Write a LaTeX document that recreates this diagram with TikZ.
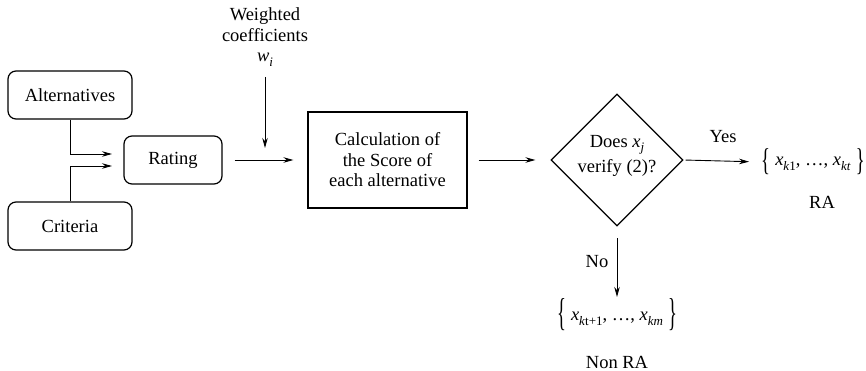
\documentclass[tikz,border=0pt]{standalone}
\usepackage{fontspec}
\usepackage{graphicx}
\setmainfont{Liberation Serif}
\usetikzlibrary{arrows.meta,shapes.geometric}
\newcommand{\sbs}[1]{\raisebox{-4.5pt}[0pt][0pt]{\fontsize{13}{13}\selectfont #1}}
\newcommand{\vx}[1]{\textit{x}\sbs{#1}}
\newcommand{\lbr}[1]{\raisebox{-0.28em}{\scalebox{1}[#1]{\{}}}
\newcommand{\rbr}[1]{\raisebox{-0.28em}{\scalebox{1}[#1]{\}}}}
\begin{document}
\begin{tikzpicture}[x=1pt,y=-1pt,
  every node/.style={font=\fontsize{18.5}{20.5}\selectfont},
  rbox/.style={draw,line width=1.2pt,rounded corners=8pt,inner sep=0pt},
  sbox/.style={draw,line width=1.2pt,inner sep=0pt,align=center},
  arr/.style={line width=0.9pt,-{Stealth[length=10pt,width=5.5pt]}}]
\useasboundingbox (0,0) rectangle (866,371);
\node[rbox,minimum width=124pt,minimum height=48pt] (alt) at (70,95) {Alternatives};
\node[rbox,minimum width=124pt,minimum height=48pt] (crit) at (70,226) {Criteria};
\node[rbox,minimum width=98pt,minimum height=48pt] (rate) at (173,160) {Rating};
\node[sbox,minimum width=159pt,minimum height=96pt] (calc) at (387.5,160) {Calculation of\\the Score of\\each alternative};
\node[draw,line width=1.2pt,diamond,aspect=1,minimum width=132pt,minimum height=132pt,inner sep=0pt] (dec) at (617,160) {};
\node[align=center,inner sep=0pt] (dect) at (617,156) {Does \vx{\textit{j}}\\[5pt]verify (2)?};
\node[align=center,inner sep=0pt] (w) at (265,35) {Weighted\\coefficients\\\textit{w}\sbs{\textit{i}}};
\node[inner sep=0pt] (ra) at (813,162) {\lbr{1.7}\;\vx{\textit{k}1}, \ldots, \vx{\textit{kt}}\;\rbr{1.7}};
\node[inner sep=0pt] (nra) at (617,315) {\lbr{2.1}\;\vx{\textit{k}t+1}, \ldots, \vx{\textit{km}}\;\rbr{2.1}};
\node (yes) at (723,137) {Yes};
\node (no) at (597,262) {No};
\node (ral) at (822,202) {RA};
\node (nral) at (617,362) {Non RA};
\coordinate (r1) at (112,154);
\coordinate (r2) at (112,166);
\coordinate (ws) at (265,77);
\coordinate (we) at (265,148);
\coordinate (ns) at (617,238);
\coordinate (ne) at (617,297);
\draw[arr] (alt.south) |- (r1);
\draw[arr] (crit.north) |- (r2);
\draw[arr] (ws) -- (we);
\draw[arr,shorten <=12pt,shorten >=14pt] (rate.east) -- (calc.west);
\draw[arr,shorten <=11pt,shorten >=15pt] (calc.east) -- (dec.west);
\draw[arr,shorten <=2pt,shorten >=12pt] (dec.east) -- (ra.west);
\draw[arr] (ns) -- (ne);
\end{tikzpicture}
\end{document}
